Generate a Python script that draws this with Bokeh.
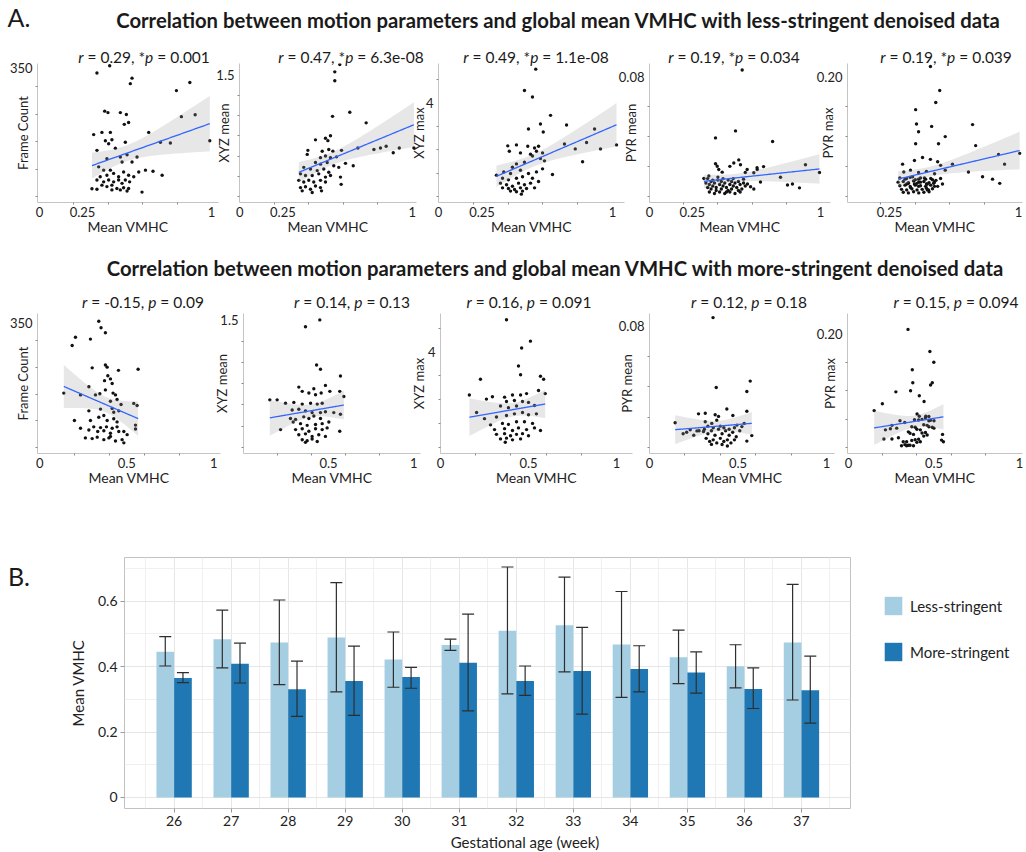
import numpy as np
from bokeh.plotting import figure
from bokeh.models import (ColumnDataSource, FixedTicker, CustomJSTickFormatter, Range1d,
                          Div, Whisker, Legend, LegendItem, TeeHead)
from bokeh.layouts import column, row
from bokeh.embed import file_html
from bokeh.resources import INLINE

FONT = "Lato"

# ---------------- data: panel A, less-stringent (top row) ----------------
T1_x = [0.334,0.408,0.538,0.528,0.796,0.874,0.825,0.905,0.990,0.761,0.703,0.635,0.379,0.398,0.470,0.505,0.493,0.518,0.315,0.363,
        0.412,0.383,0.421,0.402,0.334,0.441,0.499,0.392,0.470,0.509,0.567,0.538,0.480,0.344,0.373,0.412,0.392,0.353,0.431,0.460,
        0.489,0.518,0.548,0.577,0.616,0.660,0.713,0.334,0.373,0.402,0.431,0.460,0.480,0.499,0.524,0.363,0.392,0.421,0.450,0.489,
        0.518,0.305,0.334,0.421,0.470,0.509,0.596]
T1_y = [337,357,323,308,289,311,218,223,152,146,148,175,233,229,229,224,197,202,169,175,
        175,152,155,144,126,132,148,103,108,114,108,94,94,81,72,72,58,54,63,54,
        67,58,54,67,72,69,58,45,40,45,40,45,36,45,40,31,27,31,22,24,
        22,21,20,18,18,15,12]
T2_x = [0.580,0.551,0.551,0.638,0.538,0.733,0.439,0.497,0.526,0.511,0.395,0.391,0.478,0.516,0.540,0.468,0.497,0.526,0.561,0.590,
        0.685,0.778,0.816,0.849,0.925,1.010,0.890,0.613,0.658,0.439,0.468,0.507,0.545,0.574,0.371,0.410,0.449,0.487,0.516,0.352,
        0.381,0.420,0.458,0.497,0.526,0.584,0.588,0.342,0.371,0.400,0.429,0.468,0.497,0.352,0.381,0.410,0.439,0.468,0.420,0.474,
        0.362]
T2_y = [1.63,1.54,1.43,1.04,0.99,0.91,0.70,0.72,0.75,0.69,0.57,0.52,0.56,0.58,0.56,0.48,0.50,0.48,0.49,0.57,
        0.60,0.58,0.60,0.62,0.60,0.60,0.54,0.41,0.38,0.42,0.40,0.42,0.38,0.36,0.36,0.34,0.32,0.34,0.30,0.28,
        0.26,0.26,0.28,0.24,0.26,0.24,0.15,0.20,0.18,0.20,0.18,0.20,0.18,0.11,0.12,0.09,0.13,0.11,0.05,0.07,
        0.07]
T3_x = [0.559,0.494,0.540,0.644,0.586,0.517,0.736,0.602,0.897,0.398,0.448,0.513,0.552,0.575,0.407,0.471,0.529,0.563,0.598,0.724,
        0.786,0.851,1.023,0.931,0.828,0.540,0.586,0.609,0.448,0.494,0.425,0.655,0.333,0.375,0.414,0.471,0.517,0.563,0.598,0.368,
        0.402,0.448,0.483,0.540,0.356,0.391,0.425,0.460,0.494,0.529,0.575,0.368,0.402,0.437,0.471,0.506,0.552,0.414,0.448,0.483,
        0.476]
T3_y = [5.43,4.52,4.24,3.46,3.09,2.88,3.05,2.75,2.88,2.16,2.20,2.14,2.07,2.14,1.93,1.86,1.80,1.93,1.86,2.24,
        2.03,2.30,2.20,2.03,1.48,1.73,1.62,1.52,1.39,1.46,1.25,0.94,0.91,1.05,0.98,1.12,0.98,1.05,1.18,0.78,
        0.71,0.78,0.84,0.78,0.57,0.50,0.44,0.57,0.50,0.57,0.64,0.37,0.34,0.30,0.37,0.34,0.37,0.23,0.20,0.23,
        0.10]
T4_x = [0.542,0.386,0.503,0.386,0.396,0.405,0.425,0.470,0.493,0.522,0.532,0.571,0.610,0.629,0.318,0.347,0.560,0.630,0.667,0.720,
        0.766,0.807,0.836,0.877,0.912,0.994,0.649,0.591,0.610,0.573,0.550,
        0.34,0.37,0.40,0.43,0.46,0.49,0.52,0.33,0.35,0.38,0.41,0.44,0.47,0.50,0.53,0.56,
        0.34,0.36,0.39,0.42,0.45,0.48,0.51,0.54,0.35,0.38,0.41,0.44,0.47,0.50,0.53,
        0.36,0.39,0.42,0.45,0.48,0.37,0.43,0.49,0.40,0.46,0.52,0.55]
T4_y = [0.0847,0.0392,0.0439,0.0219,0.0202,0.0181,0.0163,0.0202,0.0224,0.0245,0.0213,0.0181,0.0159,0.0192,0.0121,0.0137,0.0161,0.0180,0.0200,0.0368,
        0.0129,0.0077,0.0084,0.0058,0.0213,0.0161,0.0097,0.0065,0.0050,0.0084,0.0116,
        0.012,0.011,0.013,0.012,0.011,0.012,0.010,0.009,0.008,0.009,0.008,0.009,0.008,0.009,0.008,0.007,
        0.006,0.005,0.006,0.005,0.006,0.005,0.006,0.005,0.003,0.002,0.003,0.002,0.003,0.002,0.003,
        0.010,0.004,0.010,0.003,0.010,0.007,0.007,0.007,0.011,0.004,0.004,0.009]
T5_x = [0.488,0.542,0.519,0.402,0.407,0.495,0.419,0.733,0.574,0.402,0.535,0.751,0.884,1.007,0.326,0.395,0.442,0.488,0.530,0.547,
        0.616,0.919,0.574,0.709,0.791,0.849,0.891,0.333,0.372,0.419,0.465,0.512,0.349,0.384,0.419,0.453,0.500,0.547,0.360,0.395,
        0.430,0.465,0.507,0.558,0.372,0.419,0.465,0.512,0.477,
        0.31,0.34,0.37,0.40,0.43,0.46,0.49,0.52,0.30,0.33,0.36,0.39,0.42,0.45,0.48,0.51,
        0.31,0.34,0.37,0.40,0.43,0.46,0.49,0.53,0.32,0.35,0.38,0.41,0.44,0.47,0.50,
        0.33,0.36,0.39,0.42,0.45,0.48,0.35,0.41,0.47]
T5_y = [0.217,0.177,0.157,0.145,0.121,0.117,0.108,0.120,0.100,0.088,0.088,0.085,0.070,0.072,0.054,0.060,0.065,0.062,0.058,0.052,
        0.054,0.054,0.044,0.041,0.033,0.029,0.022,0.041,0.044,0.040,0.042,0.038,0.030,0.033,0.029,0.031,0.028,0.030,0.022,0.021,
        0.024,0.021,0.022,0.021,0.015,0.017,0.014,0.017,0.011,
        0.031,0.029,0.032,0.028,0.031,0.029,0.030,0.027,0.024,0.025,0.023,0.026,0.024,0.025,0.023,0.024,
        0.018,0.019,0.017,0.019,0.018,0.017,0.019,0.017,0.012,0.011,0.013,0.011,0.012,0.011,0.013,
        0.007,0.006,0.008,0.006,0.007,0.008,0.021,0.022,0.021]

# ---------------- data: panel A, more-stringent (bottom row) ----------------
B1_x = [0.339,0.352,0.377,0.205,0.186,0.291,0.301,0.377,0.387,0.391,0.452,0.565,0.372,0.406,0.416,0.282,0.138,0.234,0.320,0.345,
        0.377,0.421,0.435,0.406,0.444,0.467,0.540,0.559,0.282,0.349,0.416,0.425,0.454,0.199,0.291,0.339,0.368,0.387,0.425,0.444,
        0.550,0.550,0.234,0.282,0.310,0.349,0.383,0.416,0.444,0.333,0.368,0.406,0.454,0.483,0.262,0.301,0.330,0.368,0.397,0.435,
        0.473,0.483,0.502,0.406]
B1_y = [355,337,323,310,287,305,224,232,226,202,217,220,188,193,180,171,153,148,148,151,
        162,153,148,130,135,121,124,118,103,108,110,99,103,76,76,85,90,76,81,72,
        63,52,54,49,58,56,58,54,58,45,47,40,45,45,27,25,29,22,27,18,
        22,13,36,31]
B2_x = [0.449,0.365,0.430,0.453,0.570,0.326,0.414,0.482,0.346,0.385,0.424,0.457,0.508,0.566,0.590,0.156,0.199,0.248,0.297,0.346,
        0.395,0.434,0.463,0.287,0.326,0.365,0.404,0.453,0.482,0.531,0.277,0.307,0.355,0.385,0.414,0.453,0.570,0.219,0.293,0.336,
        0.375,0.424,0.463,0.502,0.307,0.346,0.385,0.424,0.463,0.492,0.566,0.326,0.365,0.404,0.443,0.482,0.346,0.375,0.404,0.434,
        0.365]
B2_y = [1.50,1.42,0.97,0.92,0.84,0.71,0.69,0.73,0.66,0.64,0.62,0.64,0.66,0.66,0.60,0.56,0.56,0.52,0.53,0.51,
        0.52,0.51,0.52,0.44,0.45,0.43,0.41,0.41,0.42,0.41,0.34,0.33,0.36,0.34,0.37,0.34,0.39,0.21,0.30,0.28,
        0.26,0.27,0.28,0.30,0.21,0.22,0.19,0.22,0.21,0.23,0.19,0.15,0.16,0.13,0.15,0.13,0.09,0.08,0.10,0.07,
        0.06]
B3_x = [0.375,0.511,0.461,0.443,0.455,0.568,0.586,0.227,0.164,0.595,0.557,0.261,0.295,0.364,0.409,0.455,0.489,0.205,0.375,0.420,
        0.466,0.432,0.386,0.341,0.500,0.534,0.250,0.318,0.375,0.420,0.466,0.500,0.545,0.284,0.352,0.386,0.432,0.477,0.523,0.307,
        0.364,0.409,0.443,0.489,0.534,0.568,0.318,0.364,0.398,0.432,0.466,0.500,0.341,0.375,0.409,0.455,0.368]
B3_y = [5.36,4.46,4.17,3.42,3.05,2.99,2.86,2.86,2.20,2.26,2.39,2.03,2.13,2.11,2.20,2.20,2.26,1.47,1.93,1.97,
        1.93,1.74,1.67,1.74,1.89,1.76,1.21,1.28,1.34,1.41,1.47,1.37,1.41,0.95,1.01,0.97,1.08,1.08,1.01,0.75,
        0.79,0.71,0.82,0.75,0.82,0.71,0.55,0.58,0.49,0.55,0.58,0.49,0.36,0.39,0.32,0.36,0.22]
B4_x = [0.359,0.145,0.315,0.277,0.377,0.550,0.569,0.550,0.371,0.390,0.380,0.437,0.471,0.315,0.352,0.230,0.268,0.305,0.494,0.522,
        0.535,0.578,0.550,0.190,0.210,0.250,0.280,
        0.31,0.33,0.35,0.37,0.39,0.41,0.43,0.45,0.47,0.49,0.32,0.34,0.36,0.38,0.40,0.42,0.44,0.46,0.48,
        0.33,0.36,0.40,0.42,0.45,0.48,0.51,0.35,0.41,0.44]
B4_y = [0.0853,0.0162,0.0225,0.0221,0.0394,0.0368,0.0436,0.0238,0.0215,0.0204,0.0179,0.0253,0.0210,0.0169,0.0158,0.0116,0.0109,0.0105,0.0147,0.0137,
        0.0158,0.0078,0.0042,0.0090,0.0100,0.0080,0.0110,
        0.012,0.009,0.011,0.008,0.012,0.009,0.011,0.008,0.010,0.007,0.006,0.004,0.005,0.003,0.006,0.004,0.005,0.003,0.005,
        0.014,0.013,0.014,0.013,0.012,0.013,0.011,0.002,0.002,0.001]
B5_x = [0.348,0.373,0.376,0.363,0.414,0.480,0.277,0.198,0.150,0.442,0.401,0.414,0.386,0.452,0.301,0.329,0.254,0.282,0.216,0.245,
        0.207,0.254,0.292,0.476,0.499,0.490,0.550,0.544,0.555,0.470,0.500,
        0.32,0.34,0.36,0.38,0.40,0.42,0.44,0.46,0.48,0.50,0.33,0.35,0.37,0.39,0.41,0.43,0.45,0.47,0.49,
        0.34,0.36,0.38,0.40,0.42,0.44,0.46,0.35,0.39,0.43,0.47,0.31,0.37,0.41,0.45]
B5_y = [0.208,0.137,0.114,0.100,0.091,0.110,0.098,0.077,0.065,0.081,0.059,0.055,0.049,0.055,0.047,0.044,0.039,0.034,0.031,0.033,
        0.015,0.015,0.017,0.169,0.150,0.114,0.023,0.013,0.010,0.047,0.034,
        0.010,0.010,0.025,0.023,0.032,0.031,0.040,0.039,0.048,0.047,0.005,0.004,0.0125,0.0135,0.0145,0.0255,0.0265,0.0365,0.0355,
        0.003,0.004,0.003,0.009,0.010,0.020,0.022,0.0275,0.0355,0.0495,0.0545,0.003,0.0365,0.0485,0.0525]

Y_LABELS = ["Frame Count", "XYZ mean", "XYZ max", "PYR mean", "PYR max"]
Y_TICKS = [350, 1.5, 4, 0.08, 0.20]
Y_TICK_LABELS = ["350", "1.5", "4", "0.08", "0.20"]
Y_MINOR = [[0, 75, 150, 225, 300], [0, 0.25, 0.5, 0.75, 1.0, 1.25], [0, 1, 2, 3, 5],
           [0, 0.02, 0.04, 0.06], [0, 0.05, 0.10, 0.15]]
TOP_YMAX = [363, 1.643, 5.67, 0.089, 0.222]
BOT_YMAX = [377, 1.575, 5.62, 0.088, 0.236]
TOP_XTICKS, TOP_XLABELS = [0, 0.25, 1], ["0", "0.25", "1"]
BOT_XTICKS, BOT_XLABELS = [0, 0.5, 1], ["0", "0.5", "1"]
X_MINOR = [0.2, 0.4, 0.6, 0.8]
TOP_R = ["0.29", "0.47", "0.49", "0.19", "0.19"]
TOP_P = ["0.001", "6.3e-08", "1.1e-08", "0.034", "0.039"]
BOT_R = ["-0.15", "0.14", "0.16", "0.12", "0.15"]
BOT_P = ["0.09", "0.13", "0.091", "0.18", "0.094"]
TITLE_TOP = "Correlation between motion parameters and global mean VMHC with less-stringent denoised data"
TITLE_BOT = "Correlation between motion parameters and global mean VMHC with more-stringent denoised data"

# ---------------- data: panel B ----------------
weeks = [26, 27, 28, 29, 30, 31, 32, 33, 34, 35, 36, 37]
less_mean = [0.446, 0.484, 0.474, 0.489, 0.422, 0.466, 0.510, 0.527, 0.468, 0.429, 0.401, 0.474]
less_hi = [0.492, 0.573, 0.604, 0.657, 0.506, 0.484, 0.705, 0.674, 0.630, 0.512, 0.467, 0.652]
less_lo = [0.402, 0.396, 0.345, 0.323, 0.337, 0.450, 0.317, 0.384, 0.306, 0.348, 0.335, 0.298]
more_mean = [0.365, 0.409, 0.331, 0.356, 0.368, 0.412, 0.356, 0.387, 0.393, 0.382, 0.332, 0.328]
more_hi = [0.382, 0.472, 0.417, 0.463, 0.398, 0.561, 0.402, 0.520, 0.464, 0.445, 0.396, 0.432]
more_lo = [0.351, 0.350, 0.248, 0.251, 0.334, 0.265, 0.312, 0.255, 0.323, 0.319, 0.272, 0.227]
bar_yticks = [0, 0.2, 0.4, 0.6]
bar_ylabels = ["0", "0.2", "0.4", "0.6"]
series_names = ["Less-stringent", "More-stringent"]
series_colors = ["#a6cee3", "#1f78b4"]
BAR_XLABEL = "Gestational age (week)"

# ---------------- layout (page pixels) ----------------
LB, TB, BB = 48, 8, 36
TOP_FRAMES = [(37, 218), (239, 416), (438, 624), (649, 830), (847, 1022)]
TOP_ZERO_ONE = [(39, 211), (239.3, 411.7), (438, 612), (649, 820), (846, 1018)]
TOP_RB = [14, 14, 14, 14, 4]
BOT_FRAMES = [(37, 220), (243, 420), (440, 632), (649, 834), (847, 1022)]
BOT_ZERO_ONE = [(39.3, 213.3), (242.7, 413.3), (440, 616), (649, 826), (848, 1019)]
BOT_RB = [14, 14, 14, 14, 4]
TOP_GAP = [2, 2, 6, 6, 7]
BOT_GAP = [2, 8, 8, 10, 5]
TOP_TITLE_X = [144, 351, 536, 734, 946]
BOT_TITLE_X = [143, 352, 529, 749, 956]


def fmt(ticks, labels):
    return CustomJSTickFormatter(args=dict(t=list(ticks), l=list(labels)),
                                 code="const i = t.indexOf(tick); return i >= 0 ? l[i] : '';")


def label_width(s):
    return sum(3.4 if c == "." else 7.5 for c in s)


def panel(xs, ys, k, frame, zo, gap, ymax, frame_h, xticks, xlabels, rb):
    fl, fr = frame
    z0, z1 = zo
    u = z1 - z0
    fw = fr - fl
    p = figure(width=LB + fw + rb, height=TB + frame_h + BB,
               x_range=Range1d((fl - z0) / u, (fr - z0) / u),
               y_range=Range1d(-0.045 * ymax, ymax),
               min_border_left=LB, min_border_right=rb, min_border_top=TB, min_border_bottom=BB,
               output_backend="svg", toolbar_location=None)
    p.outline_line_color = None
    p.grid.visible = False
    p.background_fill_color = None
    p.border_fill_color = None

    xa, ya = np.array(xs, float), np.array(ys, float)
    p.scatter(xa, ya, size=3.4, color="#111111", line_color=None)
    b, a = np.polyfit(xa, ya, 1)
    xg = np.linspace(xa.min(), xa.max(), 80)
    n = len(xa)
    s = np.sqrt(((ya - (a + b * xa)) ** 2).sum() / (n - 2))
    se = s * np.sqrt(1 / n + (xg - xa.mean()) ** 2 / ((xa - xa.mean()) ** 2).sum())
    fit = a + b * xg
    p.varea(x=xg, y1=fit - 1.98 * se, y2=fit + 1.98 * se, fill_color="#9a9a9a", fill_alpha=0.24)
    p.line(xg, fit, line_color="#3366FF", line_width=1.3)

    xax, yax = p.xaxis[0], p.yaxis[0]
    xax.ticker = FixedTicker(ticks=xticks, minor_ticks=X_MINOR)
    xax.formatter = fmt(xticks, xlabels)
    yax.ticker = FixedTicker(ticks=[Y_TICKS[k]], minor_ticks=Y_MINOR[k])
    yax.formatter = fmt([Y_TICKS[k]], [Y_TICK_LABELS[k]])
    for ax in (xax, yax):
        ax.axis_line_color = "#c4c4c4"
        ax.major_tick_out = 0
        ax.major_tick_in = 0
        ax.minor_tick_out = 2
        ax.minor_tick_in = 0
        ax.minor_tick_line_color = "#8a8a8a"
        ax.major_label_text_font = FONT
        ax.major_label_text_font_size = "13px"
        ax.major_label_text_color = "#222222"
        ax.axis_label_text_font = FONT
        ax.axis_label_text_font_style = "normal"
        ax.axis_label_text_color = "#222222"
    xax.axis_label = "Mean VMHC"
    xax.axis_label_text_font_size = "14px"
    xax.major_label_standoff = 2
    xax.axis_label_standoff = -2
    yax.axis_label = Y_LABELS[k]
    yax.axis_label_text_font_size = "13px"
    yax.major_label_standoff = 3
    yax.axis_label_standoff = int(round(gap - (3 + label_width(Y_TICK_LABELS[k]))))
    return p


def span(cx, cy, html, size, weight="normal"):
    return ('<span style="position:absolute;left:%dpx;top:%dpx;transform:translate(-50%%,-50%%);'
            'white-space:nowrap;font-size:%spx;font-weight:%s;">%s</span>' % (cx, cy, size, weight, html))


def band(height, spans, color="#1a1a1a"):
    html = ('<div style="position:relative;width:1026px;height:%dpx;font-family:Lato;color:%s;">%s</div>'
            % (height, color, "".join(spans)))
    return Div(text=html, width=1026, height=height, margin=(0, 0, 0, 0))


# header band (page y 0..66)
H1 = 66
spans1 = [span(19, 18, "A.", 25), span(558, 20, TITLE_TOP, 20.3, "bold")]
for cx, r, pv in zip(TOP_TITLE_X, TOP_R, TOP_P):
    spans1.append(span(cx, 57, "<i>r</i> = %s, *<i>p</i> = %s" % (r, pv), 15.5))
header = band(H1, spans1)

# middle band (page y 238..318)
H2_TOP, H2 = 238, 80
spans2 = [span(555, 268 - H2_TOP, TITLE_BOT, 20.3, "bold")]
for cx, r, pv in zip(BOT_TITLE_X, BOT_R, BOT_P):
    spans2.append(span(cx, 302 - H2_TOP, "<i>r</i> = %s, <i>p</i> = %s" % (r, pv), 15.5))
middle = band(H2, spans2)

# B band (page y 489..589)
H3_TOP, H3 = 489, 100
bband = band(H3, [span(19, 577 - H3_TOP, "B.", 25)])


def make_row(datasets, frames, zos, gaps, ymaxs, rbs, frame_top, frame_h, row_top, xticks, xlabels):
    figs = []
    prev_right = 0
    for k, ((xs, ys), fr, zo, gp, ym, rb) in enumerate(zip(datasets, frames, zos, gaps, ymaxs, rbs)):
        p = panel(xs, ys, k, fr, zo, gp, ym, frame_h, xticks, xlabels, rb)
        left = fr[0] - LB
        p.margin = (frame_top - TB - row_top, 0, 0, left - prev_right)
        prev_right = left + p.width
        figs.append(p)
    return row(*figs, spacing=0)


top_row = make_row([(T1_x, T1_y), (T2_x, T2_y), (T3_x, T3_y), (T4_x, T4_y), (T5_x, T5_y)],
                   TOP_FRAMES, TOP_ZERO_ONE, TOP_GAP, TOP_YMAX, TOP_RB, 63, 139, H1, TOP_XTICKS, TOP_XLABELS)
bot_row = make_row([(B1_x, B1_y), (B2_x, B2_y), (B3_x, B3_y), (B4_x, B4_y), (B5_x, B5_y)],
                   BOT_FRAMES, BOT_ZERO_ONE, BOT_GAP, BOT_YMAX, BOT_RB, 313, 140, H2_TOP + H2, BOT_XTICKS, BOT_XLABELS)

# ---------------- panel B bar chart ----------------
OFF = 0.155
src = ColumnDataSource(dict(
    week=weeks,
    xl=[w - OFF for w in weeks], xm=[w + OFF for w in weeks],
    lm=less_mean, lh=less_hi, ll=less_lo,
    mm=more_mean, mh=more_hi, ml=more_lo))

bp = figure(width=860, height=307, x_range=Range1d(25.13, 37.86), y_range=Range1d(-0.034, 0.734),
            min_border_left=124, min_border_right=10, min_border_top=12, min_border_bottom=44,
            output_backend="svg", toolbar_location=None)
bp.margin = (545 - (H3_TOP + H3), 0, 0, 0)
bp.background_fill_color = None
bp.border_fill_color = None
bp.outline_line_color = "#c2c2c2"
r1 = bp.vbar(x="xl", top="lm", width=2 * OFF, source=src, fill_color=series_colors[0], line_color=None)
r2 = bp.vbar(x="xm", top="mm", width=2 * OFF, source=src, fill_color=series_colors[1], line_color=None)
for base, up, lo in (("xl", "lh", "ll"), ("xm", "mh", "ml")):
    w = Whisker(base=base, upper=up, lower=lo, source=src, level="overlay",
                line_color="#2e2e2e", line_width=1.2,
                upper_head=TeeHead(size=12, line_color="#2e2e2e", line_width=1.2),
                lower_head=TeeHead(size=12, line_color="#2e2e2e", line_width=1.2))
    bp.add_layout(w)

bp.xaxis.ticker = FixedTicker(ticks=weeks, minor_ticks=[w - 0.5 for w in weeks] + [weeks[-1] + 0.5])
bp.yaxis.ticker = FixedTicker(ticks=bar_yticks, minor_ticks=[0.1, 0.3, 0.5, 0.7])
bp.yaxis.formatter = fmt(bar_yticks, bar_ylabels)
bp.grid.grid_line_color = "#e6e6e6"
bp.grid.minor_grid_line_color = "#f0f0f0"
for ax in (bp.xaxis[0], bp.yaxis[0]):
    ax.axis_line_color = None
    ax.major_tick_out = 4
    ax.major_tick_in = 0
    ax.major_tick_line_color = "#9a9a9a"
    ax.minor_tick_line_color = None
    ax.major_label_text_font = FONT
    ax.major_label_text_font_size = "14px"
    ax.major_label_text_color = "#222222"
    ax.axis_label_text_font = FONT
    ax.axis_label_text_font_size = "15px"
    ax.axis_label_text_font_style = "normal"
    ax.axis_label_text_color = "#222222"
bp.xaxis.major_label_standoff = 3
bp.yaxis.axis_label = "Mean VMHC"
bp.yaxis.major_label_standoff = 3
bp.yaxis.axis_label_standoff = 8

# legend area to the right of the bar chart (page x 860..1026)
lf = figure(width=166, height=307, x_range=Range1d(0, 1), y_range=Range1d(0, 1),
            min_border_left=0, min_border_right=0, min_border_top=0, min_border_bottom=0,
            x_axis_location=None, y_axis_location=None, output_backend="svg", toolbar_location=None)
lf.margin = (545 - (H3_TOP + H3), 0, 0, 0)
lf.outline_line_color = None
lf.grid.visible = False
lf.background_fill_color = None
lf.border_fill_color = None
items = []
for name, col, xcol, tcol in zip(series_names, series_colors, ("xl", "xm"), ("lm", "mm")):
    # same bars, but outside this legend panel's view: only the legend swatch shows
    rr = lf.vbar(x=xcol, top=tcol, width=2 * OFF, source=src, fill_color=col, line_color=None)
    items.append(LegendItem(label=name, renderers=[rr]))
legend = Legend(items=items, location=(22, 145), orientation="vertical", glyph_width=22, glyph_height=23,
                spacing=23, padding=0, margin=0, border_line_color=None, background_fill_color=None,
                label_text_font=FONT, label_text_font_size="15px", label_text_color="#222222",
                label_standoff=6)
lf.add_layout(legend)

# x-axis title of the bar chart, centred as in the original (page y ~843)
xlab = band(18, [span(525, 9, BAR_XLABEL, 15)], color="#222222")
xlab.margin = (-18, 0, 0, 0)

page = column(header, top_row, middle, bot_row, bband, row(bp, lf, spacing=0), xlab, spacing=0)
open("out.html", "w").write(file_html(page, INLINE))
